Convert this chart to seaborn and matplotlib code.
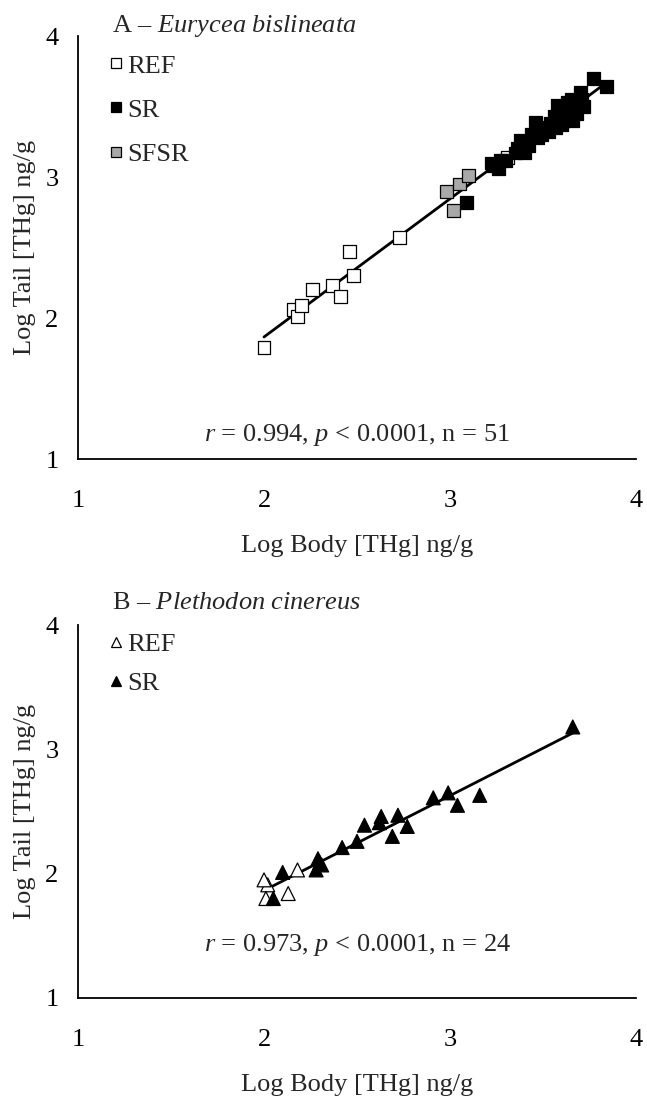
import matplotlib
matplotlib.use('Agg')
import matplotlib.pyplot as plt
from matplotlib.lines import Line2D
import seaborn as sns
import pandas as pd

# Panel A - Eurycea bislineata (log body vs log tail THg)
a_ref_body = [2.00, 2.16, 2.18, 2.20, 2.26, 2.37, 2.41, 2.46, 2.48, 2.73, 3.31]
a_ref_tail = [1.79, 2.06, 2.01, 2.09, 2.20, 2.23, 2.15, 2.47, 2.30, 2.57, 3.14]
a_sfsr_body = [2.98, 3.02, 3.05, 3.10]
a_sfsr_tail = [2.90, 2.76, 2.95, 3.01]
a_sr_body = [3.09, 3.22, 3.26, 3.27, 3.35, 3.38, 3.40, 3.46, 3.47, 3.51, 3.53, 3.56,
             3.58, 3.60, 3.62, 3.63, 3.66, 3.67, 3.70, 3.72, 3.77, 3.84,
             3.23, 3.30, 3.36, 3.42, 3.44, 3.49, 3.54, 3.57, 3.59, 3.61, 3.64, 3.65,
             3.68, 3.71]
a_sr_tail = [2.82, 3.10, 3.06, 3.12, 3.17, 3.26, 3.17, 3.39, 3.28, 3.35, 3.32, 3.43,
             3.51, 3.37, 3.45, 3.53, 3.40, 3.49, 3.60, 3.50, 3.70, 3.64,
             3.08, 3.12, 3.20, 3.22, 3.30, 3.30, 3.38, 3.35, 3.45, 3.40, 3.47, 3.55,
             3.45, 3.55]

# Panel B - Plethodon cinereus
b_ref_body = [2.02, 2.01, 2.18, 2.13, 2.00]
b_ref_tail = [1.91, 1.80, 2.03, 1.84, 1.95]
b_sr_body = [2.10, 2.05, 2.28, 2.30, 2.31, 2.42, 2.50, 2.54, 2.63, 2.62, 2.72, 2.69,
             2.77, 2.91, 2.99, 3.04, 3.16, 3.66, 2.29]
b_sr_tail = [2.01, 1.80, 2.03, 2.09, 2.07, 2.21, 2.26, 2.39, 2.46, 2.41, 2.47, 2.30,
             2.38, 2.61, 2.65, 2.55, 2.63, 3.18, 2.12]

title_a = 'A \u2013 $\\it{Eurycea\\ bislineata}$'
title_b = 'B \u2013 $\\it{Plethodon\\ cinereus}$'
stats_a = '$\\it{r}$ = 0.994, $\\it{p}$ < 0.0001, n = 51'
stats_b = '$\\it{r}$ = 0.973, $\\it{p}$ < 0.0001, n = 24'

sns.set_style('white')
plt.rcParams['font.family'] = ['Liberation Serif', 'DejaVu Serif']
plt.rcParams['mathtext.fontset'] = 'custom'
plt.rcParams['mathtext.it'] = 'Liberation Serif:italic'
plt.rcParams['mathtext.rm'] = 'Liberation Serif'
FS = 19

df_a = pd.DataFrame({
    'body': a_ref_body + a_sr_body + a_sfsr_body,
    'tail': a_ref_tail + a_sr_tail + a_sfsr_tail,
    'site': ['REF'] * len(a_ref_body) + ['SR'] * len(a_sr_body) + ['SFSR'] * len(a_sfsr_body),
})
df_b = pd.DataFrame({
    'body': b_ref_body + b_sr_body,
    'tail': b_ref_tail + b_sr_tail,
    'site': ['REF'] * len(b_ref_body) + ['SR'] * len(b_sr_body),
})
pal = {'REF': 'white', 'SR': 'black', 'SFSR': '#a8a8a8'}

fig = plt.figure(figsize=(6.47, 11.08), dpi=100)
ax1 = fig.add_axes([0.1206, 0.5857, 0.8624, 0.3818])
ax2 = fig.add_axes([0.1206, 0.0993, 0.8624, 0.3366])


def style_ax(ax):
    ax.set_xlim(1, 4)
    ax.set_ylim(1, 4)
    ax.set_xticks([1, 2, 3, 4])
    ax.set_yticks([1, 2, 3, 4])
    sns.despine(ax=ax)
    for s in ['left', 'bottom']:
        ax.spines[s].set_linewidth(1.3)
        ax.spines[s].set_color('black')
    ax.tick_params(direction='out', length=6, width=1.2, labelsize=FS, colors='black')
    ax.tick_params(axis='x', pad=16)
    ax.tick_params(axis='y', pad=8)
    ax.set_xlabel('Log Body [THg] ng/g', fontsize=FS, labelpad=17)
    ax.set_ylabel('Log Tail [THg] ng/g', fontsize=FS, labelpad=7)


# panel A
sns.regplot(data=df_a, x='body', y='tail', scatter=False, ci=None, ax=ax1,
            line_kws={'color': 'black', 'lw': 2.0, 'zorder': 1})
sns.scatterplot(data=df_a, x='body', y='tail', hue='site', palette=pal, marker='s',
                s=85, edgecolor='black', linewidth=0.9, ax=ax1, legend=False, zorder=2)
style_ax(ax1)
ax1.text(0.061, 1.024, title_a, transform=ax1.transAxes, fontsize=FS, va='center')
ax1.text(0.5, 0.057, stats_a, transform=ax1.transAxes, fontsize=FS, ha='center', va='center')
h_a = [Line2D([], [], ls='', marker='s', ms=7, mfc=pal[k], mec='black', mew=0.9, label=k)
       for k in ['REF', 'SR', 'SFSR']]
ax1.legend(handles=h_a, loc='upper left', bbox_to_anchor=(0.057, 0.957), frameon=False,
           fontsize=FS, handlelength=0.5, handletextpad=0.17, labelspacing=0.78,
           borderaxespad=0.0, borderpad=0.0)

# panel B
sns.regplot(data=df_b, x='body', y='tail', scatter=False, ci=None, ax=ax2,
            line_kws={'color': 'black', 'lw': 2.0, 'zorder': 1})
sns.scatterplot(data=df_b, x='body', y='tail', hue='site', palette=pal, marker='^',
                s=100, edgecolor='black', linewidth=0.9, ax=ax2, legend=False, zorder=2)
style_ax(ax2)
ax2.text(0.061, 1.059, title_b, transform=ax2.transAxes, fontsize=FS, va='center')
ax2.text(0.5, 0.142, stats_b, transform=ax2.transAxes, fontsize=FS, ha='center', va='center')
h_b = [Line2D([], [], ls='', marker='^', ms=7.5, mfc=pal[k], mec='black', mew=0.9, label=k)
       for k in ['REF', 'SR']]
ax2.legend(handles=h_b, loc='upper left', bbox_to_anchor=(0.057, 0.979), frameon=False,
           fontsize=FS, handlelength=0.5, handletextpad=0.17, labelspacing=0.59,
           borderaxespad=0.0, borderpad=0.0)

fig.savefig('out.png', dpi=100)
